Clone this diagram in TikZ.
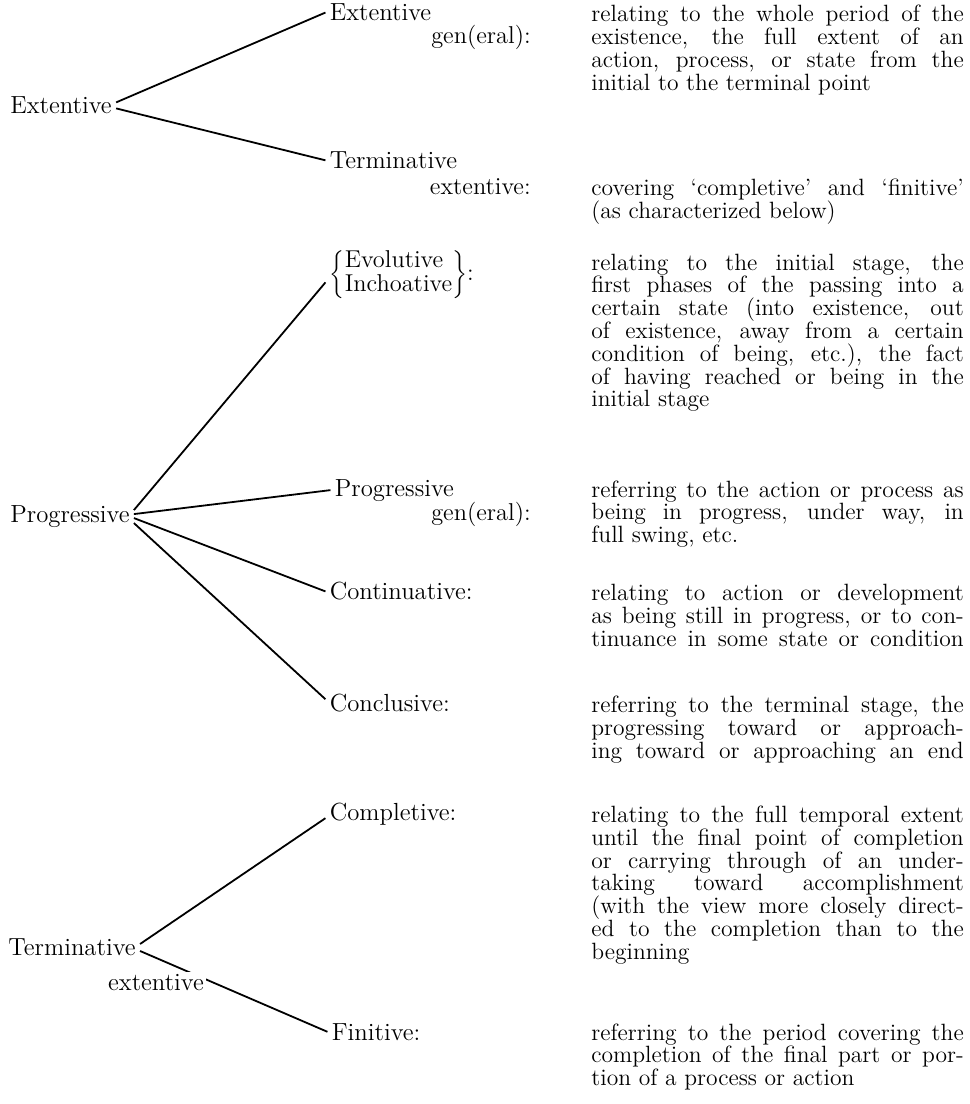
\documentclass[tikz,border=0pt]{standalone}
\begin{document}
\begin{tikzpicture}[x=0.5pt,y=-0.5pt]
	\tikzstyle{lab}=[anchor=base west,inner sep=2pt,font=\fontsize{12.4}{11.4}\selectfont]
	\tikzstyle{tag}=[anchor=base east,inner sep=0pt,font=\fontsize{12.2}{11.4}\selectfont]
	\tikzstyle{gloss}=[anchor=north west,inner sep=0pt,text width=186.5pt,align=justify,
		font=\fontsize{11.8}{11.4}\selectfont,execute at begin node={\tolerance=10000 \hbadness=10000 }]
	\tikzstyle{edge}=[line width=0.9pt]
	
	\fill[white] (0,0) rectangle (971,1104);
	
	% main classes
	\node [lab] (rext)  at (6,112) {Extentive};
	\node [lab] (rprog) at (6,521) {Progressive};
	\node [lab] (rterm) at (4,955) {Terminative};
	
	% sub classes
	\node [lab] (cext)  at (326,19)   {Extentive};
	\node [lab] (cterm) at (326,167)  {Terminative};
	\node [anchor=west,inner sep=2pt,font=\fontsize{12.2}{11.4}\selectfont] (cevo) at (326,273)
		{$\left\{\mbox{\begin{tabular}{@{}l@{}}Evolutive\\Inchoative\end{tabular}}\right\}$:};
	\node [lab] (cprog) at (331,495)  {Progressive};
	\node [lab] (ccont) at (326,599)  {Continuative:};
	\node [lab] (cconc) at (326,711)  {Conclusive:};
	\node [lab] (ccomp) at (326,820)  {Completive:};
	\node [lab] (cfin)  at (328,1040) {Finitive:};
	
	\node [tag] (tgen1) at (532,42)  {gen(eral):};
	\node [tag] (text)  at (532,193) {extentive:};
	\node [tag] (tgen2) at (532,519) {gen(eral):};
	
	% glosses
	\node [gloss] (gext) at (592,3) {relating to the whole period of the\linebreak
		existence, the full extent of an\linebreak action, process, or state from the\linebreak
		initial to the terminal point};
	\node [gloss] (gterm) at (592,177) {covering `completive' and `finitive'\linebreak
		(as characterized below)};
	\node [gloss] (gevo) at (592,252) {relating to the initial stage, the\linebreak
		first phases of the passing into a\linebreak certain state (into existence, out\linebreak
		of existence, away from a certain\linebreak condition of being, etc.), the fact\linebreak
		of having reached or being in the\linebreak initial stage};
	\node [gloss] (gprog) at (592,479) {referring to the action or process as\linebreak
		being in progress, under way, in\linebreak full swing, etc.};
	\node [gloss] (gcont) at (592,583) {relating to action or development\linebreak
		as being still in progress, or to con-\linebreak
		\makebox[186.5pt][s]{tinuance in some state or condition}};
	\node [gloss] (gconc) at (592,695) {referring to the terminal stage, the\linebreak
		progressing toward or approach-\linebreak
		\makebox[186.5pt][s]{ing toward or approaching an end}};
	\node [gloss] (gcomp) at (592,805) {relating to the full temporal extent\linebreak
		until the final point of completion\linebreak or carrying through of an under-\linebreak
		taking toward accomplishment\linebreak (with the view more closely direct-\linebreak
		ed to the completion than to the\linebreak beginning};
	\node [gloss] (gfin) at (592,1023) {referring to the period covering the\linebreak
		completion of the final part or por-\linebreak tion of a process or action};
	
	\draw[edge] ([yshift=1.5pt]rext.east) -- (cext.west);
	\draw[edge] ([yshift=-1.5pt]rext.east) -- (cterm.west);
	
	\draw[edge] ([yshift=3pt]rprog.east) -- ([yshift=-4pt]cevo.west);
	\draw[edge] ([yshift=1pt]rprog.east) -- (cprog.west);
	\draw[edge] ([yshift=-1pt]rprog.east) -- (ccont.west);
	\draw[edge] ([yshift=-3.5pt]rprog.east) -- ([yshift=2pt]cconc.west);
	
	\draw[edge] ([yshift=1.5pt]rterm.east) -- ([yshift=-2pt]ccomp.west);
	\draw[edge] ([yshift=-2pt]rterm.east) -- (cfin.west);
	\node [lab,fill=white,inner sep=1pt] (rtermx) at (106,990) {extentive};
\end{tikzpicture}
\end{document}
